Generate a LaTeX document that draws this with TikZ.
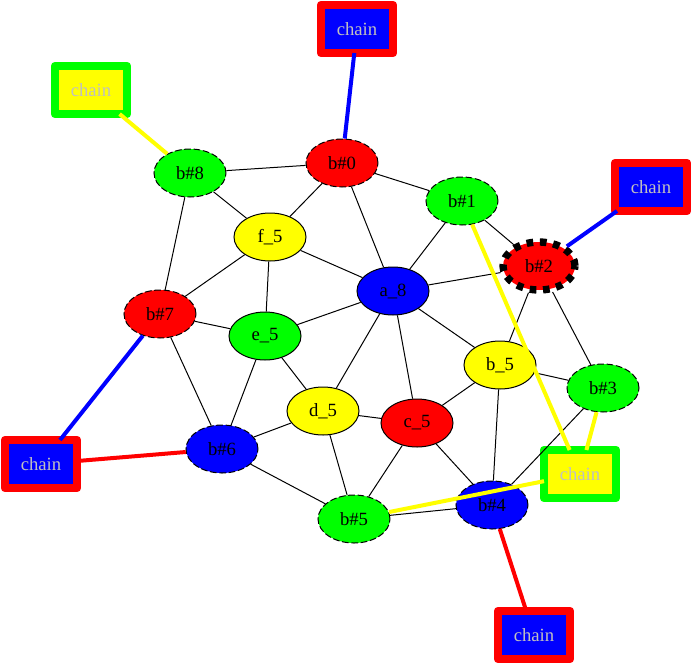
\documentclass[tikz,border=0pt]{standalone}
\usepackage{fontspec}
\setmainfont{Liberation Serif}
\usetikzlibrary{shapes.geometric}
\definecolor{gvred}{RGB}{255,0,0}
\definecolor{gvgreen}{RGB}{0,255,0}
\definecolor{gvblue}{RGB}{0,0,255}
\definecolor{gvyellow}{RGB}{255,255,0}
\definecolor{gvgray}{RGB}{192,192,192}
\tikzset{
  vnode/.style={ellipse, draw=black, line width=0.75pt, minimum width=54pt, minimum height=36pt, inner sep=0pt, font=\fontsize{14pt}{16pt}\selectfont},
  bnode/.style={vnode, dash pattern=on 5pt off 2pt},
  thickdash/.style={vnode, line width=5.5pt, dash pattern=on 5pt off 5pt},
  chainbox/.style={rectangle, line width=6.5pt, line join=round, minimum width=54pt, minimum height=36pt, inner sep=0pt, outer sep=0pt, text=gvgray, font=\fontsize{14pt}{16pt}\selectfont},
  rb/.style={chainbox, draw=gvred, fill=gvblue},
  gy/.style={chainbox, draw=gvgreen, fill=gvyellow},
  plain/.style={draw=black, line width=0.75pt},
  cedge/.style={line width=3pt},
}
\begin{document}
\begin{tikzpicture}[x=0.75pt, y=-0.75pt]
\useasboundingbox (0,0) rectangle (693,665);
% graph nodes
\node[bnode, fill=gvred]    (h0) at (342,163) {b\#0};
\node[bnode, fill=gvgreen]  (h8) at (190,173) {b\#8};
\node[bnode, fill=gvgreen]  (h1) at (462,201) {b\#1};
\node[thickdash, fill=gvred] (h2) at (539,266) {b\#2};
\node[vnode, fill=gvyellow] (f5) at (270,237) {f\_5};
\node[vnode, fill=gvblue]   (a8) at (393,291) {a\_8};
\node[bnode, fill=gvred]    (h7) at (160,314) {b\#7};
\node[vnode, fill=gvgreen]  (e5) at (265,336) {e\_5};
\node[vnode, fill=gvyellow] (b5) at (500,365) {b\_5};
\node[bnode, fill=gvgreen]  (h3) at (603,388) {b\#3};
\node[vnode, fill=gvyellow] (d5) at (323,411) {d\_5};
\node[vnode, fill=gvred]    (c5) at (417,423) {c\_5};
\node[bnode, fill=gvblue]   (h6) at (222,449) {b\#6};
\node[bnode, fill=gvgreen]  (h5) at (354,519) {b\#5};
\node[bnode, fill=gvblue]   (h4) at (492,505) {b\#4};
% chain boxes
\node[rb] (k0) at (357,29) {chain};
\node[gy] (k8) at (91,90) {chain};
\node[rb] (k2) at (651,187) {chain};
\node[rb] (k7) at (41,464) {chain};
\node[gy] (kY) at (580,474) {chain};
\node[rb] (k4) at (534,635) {chain};
% black edges
\draw[plain] (h0) -- (h8);
\draw[plain] (h0) -- (h1);
\draw[plain] (h0) -- (f5);
\draw[plain] (h0) -- (a8);
\draw[plain] (h8) -- (f5);
\draw[plain] (h8) -- (h7);
\draw[plain] (h1) -- (h2);
\draw[plain] (h1) -- (a8);
\draw[plain] (h2) -- (a8);
\draw[plain] (h2) -- (b5);
\draw[plain] (h2) -- (h3);
\draw[plain] (f5) -- (a8);
\draw[plain] (f5) -- (h7);
\draw[plain] (f5) -- (e5);
\draw[plain] (h7) -- (e5);
\draw[plain] (h7) -- (h6);
\draw[plain] (e5) -- (a8);
\draw[plain] (e5) -- (d5);
\draw[plain] (e5) -- (h6);
\draw[plain] (a8) -- (d5);
\draw[plain] (a8) -- (c5);
\draw[plain] (a8) -- (b5);
\draw[plain] (b5) -- (c5);
\draw[plain] (b5) -- (h3);
\draw[plain] (b5) -- (h4);
\draw[plain] (h3) -- (h4);
\draw[plain] (d5) -- (c5);
\draw[plain] (d5) -- (h6);
\draw[plain] (d5) -- (h5);
\draw[plain] (c5) -- (h5);
\draw[plain] (c5) -- (h4);
\draw[plain] (h6) -- (h5);
\draw[plain] (h5) -- (h4);
% coloured edges
\draw[cedge, gvblue]   (k0) -- (h0);
\draw[cedge, gvyellow] (k8) -- (h8);
\draw[cedge, gvblue]   (k2) -- (h2);
\draw[cedge, gvblue]   (k7) -- (h7);
\draw[cedge, gvred]    (k7) -- (h6);
\draw[cedge, gvyellow] (kY) -- (h1);
\draw[cedge, gvyellow] (kY) -- (h3);
\draw[cedge, gvyellow] (kY) -- (h5);
\draw[cedge, gvred]    (k4) -- (h4);
\end{tikzpicture}
\end{document}
